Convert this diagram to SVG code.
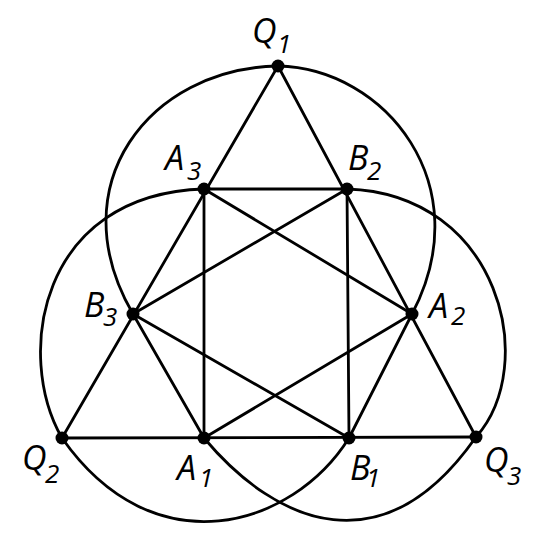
<svg xmlns="http://www.w3.org/2000/svg" width="555" height="555" viewBox="0 0 555 555">
<style>
.e{stroke:#000;stroke-width:2.8;fill:none;stroke-linecap:round}
.d{fill:#000}
.l{font-family:"Open Sans","Noto Sans","DejaVu Sans",sans-serif;font-style:italic;fill:#000;font-size:34px}
.s{font-size:26px}
</style>
<rect width="555" height="555" fill="#fff"/>
<g id="connectors">
<line class="e" x1="278" y1="66" x2="62" y2="438"/>
<line class="e" x1="278" y1="66" x2="476" y2="437"/>
<line class="e" x1="62" y1="438" x2="476" y2="437"/>
<line class="e" x1="204" y1="189" x2="347" y2="189"/>
<line class="e" x1="204" y1="189" x2="204" y2="438"/>
<line class="e" x1="347" y1="189" x2="349" y2="438"/>
<line class="e" x1="204" y1="189" x2="412" y2="314"/>
<line class="e" x1="347" y1="189" x2="133" y2="314"/>
<line class="e" x1="133" y1="314" x2="349" y2="438"/>
<line class="e" x1="412" y1="314" x2="204" y2="438"/>
<line class="e" x1="133" y1="314" x2="204" y2="438"/>
<line class="e" x1="412" y1="314" x2="349" y2="438"/>
<path class="e" d="M278,66 C150,68 58,185 133,314"/>
<path class="e" d="M278,66 C385,68 480,185 412,314"/>
<path class="e" d="M62,438 C14.5,355.7 39,194 204,189"/>
<path class="e" d="M62,438 C153.8,569 292.4,528 349,438"/>
<path class="e" d="M476,437 C384.2,568 278,526.1 204,438"/>
<path class="e" d="M476,437 C540,365 500,194 347,189"/>
</g>
<g id="Q1"><circle class="d" cx="278" cy="66" r="6.5"/><text class="l" x="252" y="43">Q<tspan class="s" x="277" y="53">1</tspan></text></g>
<g id="Q2"><circle class="d" cx="62" cy="438" r="6.5"/><text class="l" x="22" y="470">Q<tspan class="s" x="45" y="483">2</tspan></text></g>
<g id="Q3"><circle class="d" cx="476" cy="437" r="6.5"/><text class="l" x="484" y="472">Q<tspan class="s" x="507" y="485">3</tspan></text></g>
<g id="A1"><circle class="d" cx="204" cy="438" r="6.5"/><text class="l" x="177" y="480">A<tspan class="s" x="199" y="487">1</tspan></text></g>
<g id="B1"><circle class="d" cx="349" cy="438" r="6.5"/><text class="l" x="350" y="480">B<tspan class="s" x="366" y="487">1</tspan></text></g>
<g id="A2"><circle class="d" cx="412" cy="314" r="6.5"/><text class="l" x="429" y="318">A<tspan class="s" x="451" y="325">2</tspan></text></g>
<g id="B2"><circle class="d" cx="347" cy="189" r="6.5"/><text class="l" x="348" y="170">B<tspan class="s" x="367" y="180">2</tspan></text></g>
<g id="A3"><circle class="d" cx="204" cy="189" r="6.5"/><text class="l" x="165" y="170">A<tspan class="s" x="187" y="180">3</tspan></text></g>
<g id="B3"><circle class="d" cx="133" cy="314" r="6.5"/><text class="l" x="84" y="317">B<tspan class="s" x="103" y="326">3</tspan></text></g>
</svg>
